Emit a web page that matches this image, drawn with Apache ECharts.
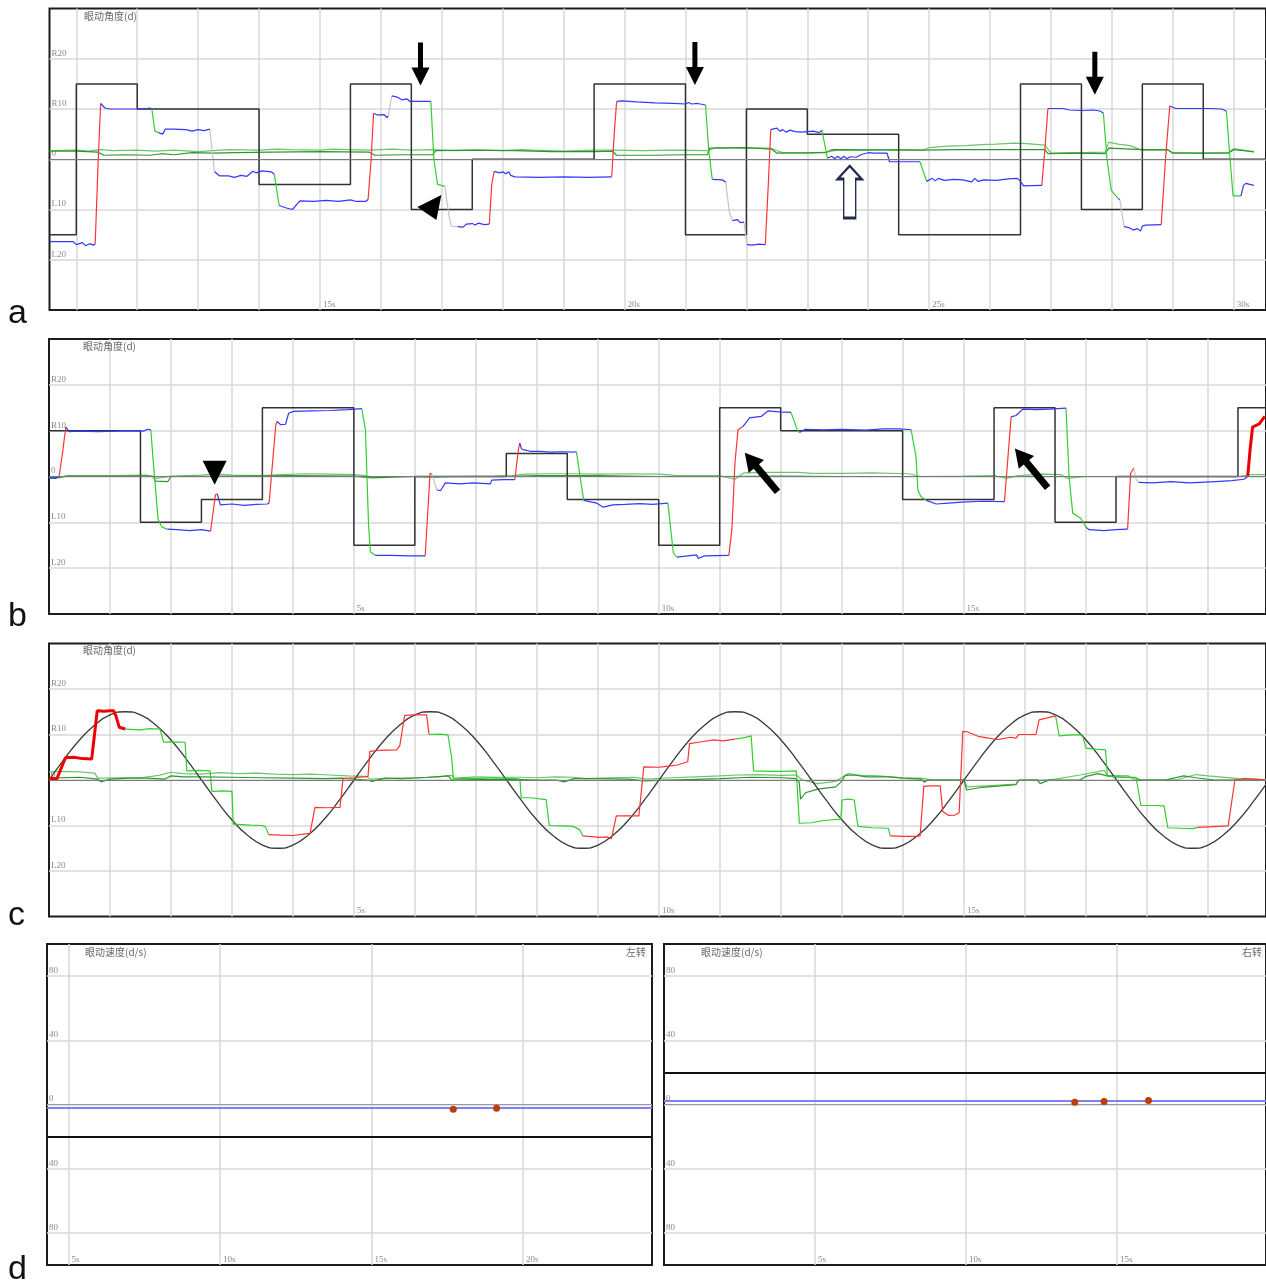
<!DOCTYPE html>
<html><head><meta charset="utf-8">
<script src="https://cdn.jsdelivr.net/npm/echarts@6/dist/echarts.min.js"></script>
<style>html,body{margin:0;padding:0;background:#fff}#c{width:1266px;height:1285px}</style>
</head><body><div id="c"></div>
<script>
// ---------------- DATA ----------------
// Panel a (saccade test, 10.56 - 30.53 s)
const aTargetT = [10.56, 11, 12, 14, 15.5, 16.5, 17.5, 19.5, 21, 22, 23, 24.5, 26.5, 27.5, 28.5, 29.5, 30.53];
const aTargetV = [-15, 15, 10, -5, 15, -10, 0, 15, -15, 10, 5, -15, 15, -10, 15, 0, 0];
// eye trace segments: b = blue fixation, r = red (rightward), g = green (leftward), y = grey, R = thick red
const aEye = [
 ['b', [[10.56,-16.4],[10.95,-16.4],[11.0,-17.0],[11.1,-16.6],[11.15,-17.2],[11.22,-16.8],[11.28,-17.1],[11.31,-16.8]]],
 ['r', [[11.31,-16.8],[11.36,0],[11.4,11.1]]],
 ['b', [[11.4,11.1],[11.47,10.2],[11.55,10.0],[12.0,10.0],[12.02,10.2],[12.1,10.0],[12.2,10.2],[12.24,10.0]]],
 ['g', [[12.24,10.0],[12.29,5.6],[12.35,5.3]]],
 ['b', [[12.35,5.3],[12.42,5.0],[12.46,6.0],[12.6,6.0],[12.8,5.9],[12.9,5.6],[13.0,5.9],[13.1,5.7],[13.19,6.0]]],
 ['y', [[13.19,6.0],[13.27,-2.5]]],
 ['b', [[13.27,-2.5],[13.35,-3.3],[13.5,-3.3],[13.6,-3.6],[13.7,-3.2],[13.8,-3.4],[13.9,-2.4],[13.95,-2.7],[14.05,-2.3],[14.2,-2.5],[14.25,-3.0]]],
 ['g', [[14.25,-3.0],[14.33,-9.2]]],
 ['b', [[14.33,-9.2],[14.45,-9.7],[14.55,-10.0],[14.62,-9.0],[14.67,-8.3],[14.9,-8.4],[15.1,-8.2],[15.3,-8.4],[15.5,-8.1],[15.6,-8.4],[15.75,-8.4],[15.79,-8.0]]],
 ['r', [[15.79,-8.0],[15.84,0],[15.88,9.1]]],
 ['b', [[15.88,9.1],[15.95,8.8],[16.05,8.9],[16.1,8.3],[16.12,8.6]]],
 ['y', [[16.12,8.6],[16.18,12.6]]],
 ['b', [[16.18,12.6],[16.28,12.3],[16.35,11.8],[16.43,12.0],[16.48,11.5],[16.82,11.5]]],
 ['g', [[16.82,11.5],[16.87,0],[16.93,-5.0],[17.05,-5.4]]],
 ['y', [[17.05,-5.4],[17.12,-11.5],[17.16,-13.3],[17.26,-13.4]]],
 ['b', [[17.26,-13.4],[17.35,-13.5],[17.4,-12.9],[17.5,-12.8],[17.55,-13.1],[17.6,-12.7],[17.7,-13.0],[17.78,-12.9]]],
 ['r', [[17.78,-12.9],[17.82,-5],[17.86,-2.4]]],
 ['b', [[17.86,-2.4],[17.95,-2.7],[18.0,-2.5],[18.05,-2.9],[18.1,-2.5],[18.13,-3.2],[18.2,-3.5],[18.6,-3.6],[19.0,-3.5],[19.4,-3.6],[19.79,-3.5]]],
 ['r', [[19.79,-3.5],[19.83,5],[19.87,11.5]]],
 ['b', [[19.87,11.5],[19.95,11.6],[20.2,11.4],[20.5,11.2],[20.8,11.1],[21.0,11.0],[21.05,11.3],[21.1,11.0],[21.2,11.1],[21.33,10.8]]],
 ['g', [[21.33,10.8],[21.38,2],[21.44,-4.0]]],
 ['b', [[21.44,-4.0],[21.6,-4.1],[21.66,-4.5]]],
 ['y', [[21.66,-4.5],[21.72,-10.5],[21.77,-12.2]]],
 ['b', [[21.77,-12.2],[21.85,-12.0],[21.9,-12.6],[21.96,-12.5]]],
 ['y', [[21.96,-12.5],[22.01,-17.0]]],
 ['b', [[22.01,-17.0],[22.1,-17.1],[22.2,-16.9],[22.31,-17.0]]],
 ['r', [[22.31,-17.0],[22.36,-5],[22.4,5.9]]],
 ['b', [[22.4,5.9],[22.5,6.2],[22.55,5.6],[22.6,5.9],[22.65,5.4],[22.72,5.8],[22.8,5.5],[22.9,5.4],[23.0,5.5],[23.1,5.6],[23.2,5.3],[23.24,5.8]]],
 ['g', [[23.24,5.8],[23.33,0.2]]],
 ['b', [[23.33,0.2],[23.4,0.6],[23.45,0.1],[23.5,0.6],[23.55,0.1],[23.6,0.6],[23.65,0.1],[23.7,0.5],[23.8,0.4],[23.9,1.0],[24.0,1.3],[24.1,1.2],[24.31,1.2],[24.35,-0.5],[24.85,-0.5]]],
 ['g', [[24.85,-0.5],[24.96,-4.4]]],
 ['b', [[24.96,-4.4],[25.05,-3.8],[25.1,-4.3],[25.15,-3.8],[25.25,-4.2],[25.4,-4.0],[25.55,-4.1],[25.7,-4.5],[25.75,-3.8],[25.8,-4.4],[25.9,-4.1],[26.1,-4.2],[26.3,-3.9],[26.45,-3.8],[26.5,-4.4],[26.55,-5.3],[26.85,-5.2]]],
 ['r', [[26.85,-5.2],[26.9,2],[26.95,10.1]]],
 ['b', [[26.95,10.1],[27.2,10.1],[27.3,9.8],[27.5,9.7],[27.7,9.8],[27.8,9.6],[27.86,9.2]]],
 ['g', [[27.86,9.2],[27.92,0],[27.99,-6.2],[28.1,-7.8]]],
 ['b', [[28.1,-7.8],[28.13,-8.0]]],
 ['y', [[28.13,-8.0],[28.2,-13.4]]],
 ['b', [[28.2,-13.4],[28.28,-13.6],[28.35,-14.1],[28.42,-13.8],[28.47,-14.3],[28.5,-13.3],[28.55,-13.1],[28.81,-13.0]]],
 ['r', [[28.81,-13.0],[28.88,0],[28.95,10.6]]],
 ['b', [[28.95,10.6],[29.05,10.1],[29.3,10.1],[29.6,10.1],[29.8,10.0],[29.88,9.6]]],
 ['g', [[29.88,9.6],[29.94,0],[29.99,-7.3],[30.12,-7.3]]],
 ['b', [[30.12,-7.3],[30.16,-5.2],[30.2,-4.8],[30.33,-5.2]]]
];
const aG1 = [[10.56,1.7],[11.0,1.8],[11.2,1.6],[11.4,1.9],[11.6,1.7],[12.0,1.8],[12.3,1.6],[12.6,1.8],[13.0,1.5],[13.25,1.7],[13.5,1.9],[14.0,1.8],[14.3,2.0],[14.5,1.9],[15.0,1.8],[15.2,2.0],[15.5,1.9],[15.8,1.8],[16.2,2.0],[16.5,1.8],[16.85,1.9],[17.2,1.7],[17.6,1.8],[18.0,1.7],[18.3,1.9],[18.5,1.8],[19.0,1.6],[19.5,1.8],[19.8,1.8],[20.3,1.7],[20.8,1.8],[21.36,1.7],[21.5,2.3],[22.0,2.2],[22.4,2.2],[22.6,1.3],[23.0,1.2],[23.3,1.4],[23.5,1.8],[24.0,1.8],[24.4,1.9],[24.88,1.8],[25.0,2.3],[25.3,2.6],[25.6,2.7],[25.86,2.9],[26.1,3.0],[26.41,3.2],[26.6,3.1],[26.9,2.8],[27.0,1.2],[27.5,1.3],[27.89,1.4],[27.95,3.4],[28.1,3.0],[28.3,2.7],[28.49,1.8],[28.92,1.8],[29.0,1.3],[29.5,1.2],[29.91,1.3],[30.0,2.1],[30.2,1.7],[30.33,1.4]];
const aG2 = [[10.56,1.6],[11.0,1.6],[11.36,1.4],[11.45,0.8],[11.8,0.9],[12.21,0.8],[12.4,1.1],[12.6,0.9],[12.9,1.3],[13.25,1.2],[13.6,1.3],[14.2,1.4],[15.0,1.5],[15.81,1.4],[15.9,0.8],[16.4,0.9],[16.85,0.9],[16.9,1.7],[17.5,1.8],[18.2,1.7],[18.8,1.5],[19.53,1.5],[19.8,1.6],[19.87,0.8],[20.5,0.8],[21.0,0.9],[21.36,0.9],[21.4,2.2],[22.0,2.3],[22.42,2.0],[22.5,1.2],[23.3,1.3],[23.4,1.9],[24.88,1.8],[25.5,1.9],[26.9,1.9],[26.95,1.1],[27.4,1.2],[27.89,1.1],[27.95,2.2],[28.5,1.9],[28.92,1.9],[29.0,1.2],[29.91,1.2],[30.0,1.9],[30.33,1.5]];
const aArrowDown = [[16.65,18.95],[21.155,19.05],[27.72,17.1]];
const aArrowHeadLeft = [[16.796,-9.6]];
const aArrowHollowUp = [[23.696,-6.5]];

// Panel b (saccade test, 0 - 19.96 s)
const bTargetT = [0, 1.5, 2.5, 3.5, 5, 6, 7.5, 8.5, 10, 11, 12, 14, 15.5, 16.5, 17.5, 19.5, 19.96];
const bTargetV = [10, -10, -5, 15, -15, 0, 5, -5, -15, 15, 10, -5, 15, -10, 0, 15, 15];
const bEye = [
 ['b', [[0,-0.3],[0.1,-0.4],[0.166,0.0]]],
 ['r', [[0.166,0.0],[0.22,5],[0.276,10.8]]],
 ['b', [[0.276,10.8],[0.33,9.8],[0.5,9.9],[0.8,9.8],[1.1,9.9],[1.3,10.0],[1.55,9.9],[1.614,10.3],[1.67,10.2]]],
 ['g', [[1.67,10.2],[1.72,1.5],[1.79,-9.4],[1.85,-11.0],[1.94,-11.5]]],
 ['b', [[1.94,-11.5],[2.1,-11.6],[2.3,-11.8],[2.5,-11.6],[2.65,-11.9]]],
 ['r', [[2.65,-11.9],[2.73,-4.0],[2.76,-3.8]]],
 ['b', [[2.76,-3.8],[2.81,-6.2],[3.0,-6.0],[3.2,-6.3],[3.4,-6.1],[3.58,-6.0],[3.61,-5.8]]],
 ['r', [[3.61,-5.8],[3.72,11.3],[3.74,12.0]]],
 ['b', [[3.74,12.0],[3.8,11.3],[3.88,11.4],[3.93,13.8],[4.01,14.2],[4.3,14.3],[4.6,14.4],[4.9,14.6],[5.13,14.8]]],
 ['g', [[5.13,14.8],[5.19,10.2],[5.24,-10.2],[5.27,-16.4],[5.35,-17.2]]],
 ['b', [[5.35,-17.2],[5.6,-17.2],[5.9,-17.3],[6.17,-17.3]]],
 ['r', [[6.17,-17.3],[6.25,0.7],[6.28,0.5]]],
 ['y', [[6.28,0.5],[6.36,-2.9]]],
 ['b', [[6.36,-2.9],[6.42,-3.1],[6.5,-1.4],[6.74,-1.6],[6.96,-1.4],[7.24,-1.6],[7.26,-0.8],[7.45,-0.7],[7.64,-0.7]]],
 ['r', [[7.64,-0.7],[7.7,6.0],[7.72,7.3]]],
 ['b', [[7.72,7.3],[7.75,6.0],[7.8,5.8],[7.89,5.5],[8.05,5.5],[8.22,5.3],[8.4,5.4],[8.6,5.3],[8.65,5.4]]],
 ['g', [[8.65,5.4],[8.71,0.0],[8.77,-5.2]]],
 ['b', [[8.77,-5.2],[8.98,-5.8],[9.09,-6.7],[9.25,-6.2],[9.45,-6.1],[9.69,-5.9],[9.9,-6.1],[10.15,-5.8]]],
 ['g', [[10.15,-5.8],[10.24,-16.7],[10.3,-17.6]]],
 ['b', [[10.3,-17.6],[10.62,-17.1],[10.65,-17.9],[10.75,-17.3],[11.15,-17.2]]],
 ['r', [[11.15,-17.2],[11.2,-11.6],[11.25,2.9],[11.3,10.2],[11.38,10.9]]],
 ['b', [[11.38,10.9],[11.49,12.8],[11.68,13.1],[11.79,14.3],[11.98,14.1],[12.17,14.0]]],
 ['g', [[12.17,14.0],[12.28,9.9],[12.31,9.6]]],
 ['b', [[12.31,9.6],[12.4,10.3],[12.7,10.2],[13.0,10.3],[13.4,10.1],[13.68,10.4],[13.95,10.4],[14.14,10.2]]],
 ['g', [[14.14,10.2],[14.22,4.3],[14.25,-2.9],[14.3,-4.4],[14.39,-5.2]]],
 ['b', [[14.39,-5.2],[14.55,-6.0],[14.75,-5.8],[14.98,-5.6],[15.3,-5.4],[15.67,-5.5]]],
 ['r', [[15.67,-5.5],[15.72,2.9],[15.78,13.0]]],
 ['b', [[15.78,13.0],[15.86,13.3],[15.97,14.7],[16.2,14.6],[16.41,14.7],[16.68,14.9]]],
 ['g', [[16.68,14.9],[16.73,0.0],[16.79,-8.0],[16.92,-9.1],[17.01,-11.1]]],
 ['b', [[17.01,-11.1],[17.06,-11.6],[17.3,-11.8],[17.5,-11.6],[17.69,-11.5]]],
 ['r', [[17.69,-11.5],[17.74,0.7],[17.79,1.8]]],
 ['y', [[17.79,1.8],[17.83,-0.6],[17.87,-1.3]]],
 ['b', [[17.87,-1.3],[18.1,-1.4],[18.4,-1.1],[18.7,-1.4],[19.13,-1.1],[19.4,-0.9],[19.6,-0.6],[19.66,0.0]]],
 ['R', [[19.66,0.0],[19.7,6.0],[19.74,10.8],[19.85,11.5],[19.94,13.1]]]
];
const bG1 = [[0,-0.3],[0.17,-0.3],[0.3,0.2],[1.0,0.2],[1.6,0.3],[1.7,0.0],[1.76,-0.4],[2.0,0.1],[2.5,0.3],[2.7,0.6],[3.0,0.3],[3.5,0.2],[3.8,0.4],[4.2,0.6],[4.6,0.5],[5.0,0.4],[5.2,0.2],[5.3,-0.2],[5.6,0.0],[6.0,0.0],[6.3,-0.2],[6.6,0.0],[7.3,0.1],[7.6,0.2],[7.8,0.5],[8.2,0.6],[8.6,0.6],[9.0,0.5],[9.5,0.6],[10.0,0.5],[10.3,0.2],[11.0,0.2],[11.25,-0.6],[11.4,0.8],[11.8,0.9],[12.3,0.9],[12.5,0.7],[13.0,0.7],[13.5,0.8],[14.1,0.6],[14.3,0.0],[15.0,0.1],[15.5,0.2],[15.7,-0.4],[15.9,0.2],[16.3,0.5],[16.6,0.4],[16.7,-0.4],[17.0,0.0],[18.0,0.0],[19.0,0.0],[19.5,0.0],[19.7,0.4],[19.94,0.4]];
const bG2 = [[0,-0.4],[0.3,0.1],[1.0,0.1],[1.7,0.1],[1.75,-1.0],[1.95,-1.1],[2.0,0.0],[3.0,0.1],[4.0,0.2],[5.0,0.1],[5.3,-0.3],[6.0,0.0],[7.0,0.0],[7.5,0.0],[8.0,0.2],[9.0,0.2],[10.0,0.0],[11.0,0.0],[12.0,0.1],[13.0,0.0],[14.0,0.0],[15.0,0.0],[16.0,0.0],[17.0,0.0],[18.0,0.0],[19.0,0.0],[19.94,0.0]];
const bTriangleDown = [[2.716,0.8]];
const bArrowDiag = [[11.68,0.92],[16.11,1.83]];

// Panel c (smooth pursuit, 0 - 19.95 s)
const cSineStep = 0.25;
const cSineV = [0,4.6,8.8,12.1,14.3,15,14.3,12.1,8.8,4.6,0,-4.6,-8.8,-12.1,-14.3,-15,-14.3,-12.1,-8.8,-4.6,
 0,4.6,8.8,12.1,14.3,15,14.3,12.1,8.8,4.6,0,-4.6,-8.8,-12.1,-14.3,-15,-14.3,-12.1,-8.8,-4.6,
 0,4.6,8.8,12.1,14.3,15,14.3,12.1,8.8,4.6,0,-4.6,-8.8,-12.1,-14.3,-15,-14.3,-12.1,-8.8,-4.6,
 0,4.6,8.8,12.1,14.3,15,14.3,12.1,8.8,4.6,0,-4.6,-8.8,-12.1,-14.3,-15,-14.3,-12.1,-8.8,-4.6,0];
const cEye = [
 ['R', [[0,0.4],[0.13,0.3],[0.27,4.9],[0.4,5.0],[0.55,4.7],[0.7,4.6],[0.79,15.2],[0.9,15.1],[1.0,15.2],[1.06,15.2],[1.1,14.0],[1.15,11.6],[1.25,11.2]]],
 ['g', [[1.25,11.2],[1.5,11.0],[1.65,11.3],[1.82,11.2],[1.88,8.3],[2.0,8.4],[2.23,8.3],[2.26,2.0],[2.45,2.1],[2.64,2.0],[2.67,-2.5],[2.85,-2.4],[3.0,-2.5],[3.02,-9.7],[3.3,-9.9],[3.49,-10.0],[3.55,-10.3],[3.6,-12.0]]],
 ['r', [[3.6,-12.0],[3.79,-12.1],[4.0,-12.2],[4.23,-11.8],[4.28,-11.7],[4.36,-6.0],[4.55,-6.1],[4.77,-6.0],[4.82,0.3],[5.0,0.5],[5.23,0.8],[5.26,6.3],[5.4,6.5],[5.7,6.6],[5.75,7.5],[5.83,14.2],[6.0,14.3],[6.19,14.3],[6.23,10.0]]],
 ['g', [[6.23,10.0],[6.4,10.1],[6.54,9.9],[6.6,5],[6.63,0.2],[6.8,0.4],[7.0,0.3],[7.3,0.5],[7.62,0.3],[7.72,0.2],[7.74,-3.9],[7.9,-3.9],[8.15,-4.3],[8.2,-10.0],[8.4,-10.1],[8.59,-10.2],[8.7,-10.9],[8.75,-12.3]]],
 ['r', [[8.75,-12.3],[9.03,-12.6],[9.15,-12.5],[9.22,-12.9],[9.3,-7.9],[9.45,-7.9],[9.67,-7.9],[9.75,2.9],[10.0,2.8],[10.12,3.0],[10.3,3.3],[10.47,4.0],[10.5,8.0],[10.7,8.4],[10.9,8.8],[11.05,8.6],[11.24,9.0]]],
 ['g', [[11.24,9.0],[11.4,9.3],[11.51,9.7],[11.55,2.0],[11.8,1.9],[12.0,1.9],[12.25,2.0],[12.3,-9.5],[12.5,-9.4],[12.7,-8.9],[12.98,-8.6],[13.0,-4.4],[13.1,-4.2],[13.2,-4.4],[13.26,-10.2],[13.5,-10.5],[13.76,-10.6],[13.79,-12.3]]],
 ['r', [[13.79,-12.3],[14.0,-12.4],[14.21,-12.4],[14.28,-12.3],[14.34,-1.4],[14.45,-1.3],[14.61,-1.3],[14.65,-6.9],[14.75,-7.8],[14.85,-7.7],[14.92,-7.2],[14.98,10.7],[15.05,10.6],[15.23,9.6],[15.4,9.2],[15.54,8.9],[15.6,9.0],[15.76,9.4],[15.85,9.2],[15.9,10.0],[16.18,10.0],[16.23,13.2],[16.5,14.1]]],
 ['g', [[16.5,14.1],[16.56,9.7],[16.75,9.9],[16.94,9.9],[17.0,7.0],[17.15,6.8],[17.32,6.6],[17.35,0.8],[17.6,0.6],[17.82,0.6],[17.9,-5.6],[18.1,-5.6],[18.28,-5.7],[18.34,-10.5],[18.55,-10.6],[18.75,-10.7],[18.83,-10.4]]],
 ['r', [[18.83,-10.4],[19.0,-10.3],[19.33,-10.1],[19.44,0],[19.6,0.3],[19.8,0.2],[19.94,0]]]
];
const cG1 = [[0,1.8],[0.2,1.9],[0.5,1.8],[0.75,1.5],[0.8,0.4],[1.2,0.5],[1.5,0.5],[1.8,1.0],[2.0,1.7],[2.2,1.4],[2.5,1.3],[2.8,1.6],[3.1,1.4],[3.4,1.5],[3.7,1.3],[4.0,1.2],[4.3,1.3],[4.6,1.1],[4.9,0.9],[5.2,0.8],[5.26,0.2],[5.5,0.3],[5.8,0.4],[6.1,0.5],[6.4,0.7],[6.6,1.0],[6.65,0.4],[7.0,0.7],[7.4,0.6],[7.7,0.6],[8.0,0.5],[8.3,0.7],[8.6,0.6],[8.8,0.3],[9.2,0.5],[9.6,0.6],[9.8,0.2],[10.2,0.5],[10.6,0.7],[11.0,0.9],[11.3,1.1],[11.6,1.2],[12.0,1.0],[12.25,1.1],[12.35,0.0],[12.6,-0.8],[12.9,-0.3],[13.1,1.4],[13.3,1.0],[13.6,0.9],[14.0,0.5],[14.3,0.4],[14.5,0.0],[15.0,0.0],[15.05,-1.5],[15.5,-1.2],[15.85,-0.9],[15.9,0.0],[16.3,0.0],[16.5,0.2],[16.9,1.1],[17.3,2.1],[17.35,1.0],[17.7,0.9],[17.8,0.0],[18.5,0.1],[18.8,1.2],[19.0,0.9],[19.5,0.3],[19.94,0.0]];
const cG2 = [[0,0.4],[0.5,0.6],[0.8,0.2],[0.85,-0.4],[1.0,0.2],[1.3,0.4],[1.6,0.4],[1.9,0.2],[2.0,0.9],[2.2,0.7],[2.5,0.7],[3.0,0.6],[3.5,0.5],[4.0,0.4],[4.5,0.3],[4.8,0.4],[5.2,0.0],[5.3,-0.3],[5.5,0.4],[5.8,0.3],[6.2,0.6],[6.55,0.9],[6.6,0.0],[7.0,0.1],[7.5,0.2],[8.0,0.0],[8.3,0.0],[8.45,-0.4],[8.6,0.3],[9.0,0.3],[9.5,0.2],[9.75,-0.2],[10.0,-0.1],[10.5,0.1],[11.0,0.3],[11.5,0.6],[12.0,0.5],[12.25,0.3],[12.3,-0.6],[12.32,-4.2],[12.4,-2.8],[12.6,-2.0],[12.9,-1.5],[13.0,-0.2],[13.05,1.0],[13.2,1.1],[13.4,0.7],[13.76,0.7],[14.0,0.4],[14.3,0.2],[14.35,-0.5],[14.4,0.0],[14.7,0.0],[15.0,0.0],[15.04,-2.2],[15.3,-1.6],[15.6,-1.3],[15.85,-1.0],[15.9,0.0],[16.2,0.0],[16.25,-0.8],[16.4,0.0],[16.9,0.0],[17.0,0.8],[17.2,1.4],[17.35,0.9],[17.5,0.7],[17.8,0.5],[17.9,0.0],[18.3,0.0],[18.6,0.9],[18.8,0.5],[19.1,0.0],[19.5,0.0],[19.94,0.0]];

// Panel d (OKN velocity)
const dLeftMean = -2.3, dLeftThreshold = -20;
const dLeftPts = [[17.7,-2.9],[19.13,-2.3]];
const dRightMean = 2.5, dRightThreshold = 20;
const dRightPts = [[13.6,1.4],[14.57,1.9],[16.04,2.5]];

// tick labels
const angleTicks = [-20,-10,0,10,20];
const speedTicks = [-80,-40,0,40,80];
const aSecTicks = [11,12,13,14,15,16,17,18,19,20,21,22,23,24,25,26,27,28,29,30];
const bcSecTicks = [1,2,3,4,5,6,7,8,9,10,11,12,13,14,15,16,17,18,19];
const aSecLabels = [15,20,25,30];
const bcSecLabels = [5,10,15];
const dLeftSecLabels = [5,10,15,20];
const dRightSecLabels = [5,10,15];

// ---------------- CHART ----------------
const COL = {b:'#3636ff', r:'#ff3333', g:'#2fcf2f', y:'#c4c4c4', R:'#ee0000'};
const CJK = "'Noto Sans CJK SC','Noto Sans CJK JP',sans-serif";
const SERIF = "'Liberation Serif','DejaVu Serif',serif";
const gridLine = {show:true, lineStyle:{color:'#d8d8d8', width:1.5}};

function xAx(gi, min, max, ticks, labels){
  return {type:'value', gridIndex:gi, min:min, max:max,
    axisLine:{show:false}, axisTick:{show:false, customValues:ticks},
    splitLine:gridLine,
    axisLabel:{customValues:labels, inside:true, margin:1, align:'left', verticalAlign:'bottom',
      padding:[0,0,0,3], formatter:v=>v+'s', color:'#8a8a8a', fontSize:9, fontFamily:SERIF}};
}
function yAx(gi, min, max, ticks, fmt){
  return {type:'value', gridIndex:gi, min:min, max:max,
    axisLine:{show:false}, axisTick:{show:false, customValues:ticks},
    splitLine:gridLine,
    axisLabel:{customValues:ticks, inside:true, margin:2, align:'left', verticalAlign:'bottom',
      padding:[0,0,1,0], formatter:fmt, color:'#8a8a8a', fontSize:9, fontFamily:SERIF}};
}
const angleFmt = v => v>0 ? 'R'+v : (v<0 ? 'L'+(-v) : '0');
const absFmt = v => String(Math.abs(v));

function pairs(T, V){ return T.map((t,i)=>[t, V[i]]); }
function segData(eye, code){
  const out = [];
  eye.forEach(([c, pts]) => { if (c === code){ pts.forEach(p=>out.push(p)); out.push([pts[pts.length-1][0], '-']); } });
  return out;
}
function line(gi, data, color, width, extra){
  return Object.assign({type:'line', xAxisIndex:gi, yAxisIndex:gi, data:data, symbol:'none', silent:true,
    lineStyle:{color:color, width:width}, itemStyle:{color:color}, connectNulls:false, animation:false}, extra||{});
}
function zeroMark(color){
  return {markLine:{silent:true, symbol:'none', label:{show:false}, animation:false,
    lineStyle:{color:color, width:1, type:'solid'}, data:[{yAxis:0}]}};
}
function eyeSeries(gi, eye){
  const s = [];
  ['y','g','r','b','R'].forEach(code=>{
    const d = segData(eye, code);
    if (d.length) s.push(line(gi, d, COL[code], code==='R'?3:1.2));
  });
  return s;
}
const P_DOWN = 'path://M6.5 0 L11.5 0 L11.5 25 L18 25 L9 43 L0 25 L6.5 25 Z';
const P_HEADL = 'path://M0 12 L24 0 L19 25 Z';
const P_HOLLOW = 'path://M12 0 L24 13 L18 13 L18 52 L6 52 L6 13 L0 13 Z';
const P_TRI = 'path://M0 0 L24 0 L12 24 Z';
const P_UP = 'path://M10 0 L20 18 L13.5 18 L13.5 51 L6.5 51 L6.5 18 L0 18 Z';
function marks(items){
  return {markPoint:{silent:true, animation:false, label:{show:false}, data:items}};
}
const blk = {color:'#000'};

const grids = [
  {left:49.5, top:8.5, width:1218.5, height:301.5},
  {left:49, top:339, width:1219, height:275},
  {left:49, top:643.5, width:1219, height:273},
  {left:47, top:944, width:605, height:321},
  {left:664, top:944, width:604, height:321}
].map(g=>Object.assign({show:true, borderColor:'#1c1c1c', borderWidth:2, backgroundColor:'#fff'}, g));

const xAxes = [
  xAx(0, 10.56, 30.53, aSecTicks, aSecLabels),
  xAx(1, 0, 19.96, bcSecTicks, bcSecLabels),
  xAx(2, 0, 19.95, bcSecTicks, bcSecLabels),
  xAx(3, 4.29, 24.26, dLeftSecLabels, dLeftSecLabels),
  xAx(4, 0, 19.93, dRightSecLabels, dRightSecLabels)
];
const yAxes = [
  yAx(0,-30,30,angleTicks,angleFmt), yAx(1,-30,30,angleTicks,angleFmt), yAx(2,-30,30,angleTicks,angleFmt),
  yAx(3,-100,100,speedTicks,absFmt), yAx(4,-100,100,speedTicks,absFmt)
];

const series = [];
// panel a
series.push(line(0, aG1, '#6cc46c', 1.2, zeroMark('#7a7a7a')));
series.push(line(0, aG2, '#2f962f', 1.2));
series.push(line(0, pairs(aTargetT, aTargetV), '#333', 1.5, Object.assign({step:'end'}, marks([
  ...aArrowDown.map(c=>({coord:c, symbol:P_DOWN, symbolSize:[18,43], itemStyle:blk})),
  ...aArrowHeadLeft.map(c=>({coord:c, symbol:P_HEADL, symbolSize:[24,25], itemStyle:blk})),
  ...aArrowHollowUp.map(c=>({coord:c, symbol:P_HOLLOW, symbolSize:[24,52], itemStyle:{color:'#fff', borderColor:'#1e2b4a', borderWidth:2}}))
]))));
series.push(...eyeSeries(0, aEye));
// panel b
series.push(line(1, bG1, '#6cc46c', 1.2, zeroMark('#7a7a7a')));
series.push(line(1, bG2, '#2f962f', 1.2));
series.push(line(1, pairs(bTargetT, bTargetV), '#333', 1.5, Object.assign({step:'end'}, marks([
  ...bTriangleDown.map(c=>({coord:c, symbol:P_TRI, symbolSize:[24,24], itemStyle:blk})),
  ...bArrowDiag.map(c=>({coord:c, symbol:P_UP, symbolSize:[20,51], symbolRotate:40, itemStyle:blk}))
]))));
series.push(...eyeSeries(1, bEye));
// panel c
series.push(line(2, cG1, '#6cc46c', 1.2, zeroMark('#7a7a7a')));
series.push(line(2, cG2, '#2f962f', 1.2));
series.push(line(2, cSineV.map((v,i)=>[i*cSineStep, v]), '#3a3a3a', 1.3, {smooth:true}));
series.push(...eyeSeries(2, cEye));
// panel d
function dPanel(gi, mean, thr, pts){
  series.push(line(gi, [], '#000', 1, {z:2, markLine:{silent:true, symbol:'none', label:{show:false}, animation:false,
    data:[{yAxis:0, lineStyle:{color:'#9a9a9a', width:1.2, type:'solid'}},
          {yAxis:thr, lineStyle:{color:'#111', width:2.2, type:'solid'}},
          {yAxis:mean, lineStyle:{color:'#7f7fff', width:2, type:'solid'}}]}}));
  series.push({type:'scatter', xAxisIndex:gi, yAxisIndex:gi, data:pts, symbol:'circle', symbolSize:7, z:10,
    itemStyle:{color:'#c03c00', opacity:1}, silent:true, animation:false});
}
dPanel(3, dLeftMean, dLeftThreshold, dLeftPts);
dPanel(4, dRightMean, dRightThreshold, dRightPts);

const tStyle = {fontSize:10, color:'#6a6a6a', fontWeight:'normal', fontFamily:CJK};
const letterStyle = {fontSize:34, color:'#111', fontWeight:'normal', fontFamily:"'Liberation Sans',Arial,sans-serif"};
const titles = [
  {text:'眼动角度(d)', left:84, top:11, textStyle:tStyle},
  {text:'眼动角度(d)', left:83, top:341, textStyle:tStyle},
  {text:'眼动角度(d)', left:83, top:645, textStyle:tStyle},
  {text:'眼动速度(d/s)', left:85, top:947, textStyle:tStyle},
  {text:'左转', left:626, top:947, textStyle:tStyle},
  {text:'眼动速度(d/s)', left:701, top:947, textStyle:tStyle},
  {text:'右转', left:1242, top:947, textStyle:tStyle},
  {text:'a', left:8, top:297, textStyle:letterStyle},
  {text:'b', left:8, top:600, textStyle:letterStyle},
  {text:'c', left:8, top:899, textStyle:letterStyle},
  {text:'d', left:8, top:1253, textStyle:letterStyle}
].map(t=>Object.assign({padding:0}, t));

const chart = echarts.init(document.getElementById('c'), null, {renderer:'canvas'});
chart.setOption({animation:false, backgroundColor:'#fff', title:titles, grid:grids, xAxis:xAxes, yAxis:yAxes, series:series});
</script></body></html>
